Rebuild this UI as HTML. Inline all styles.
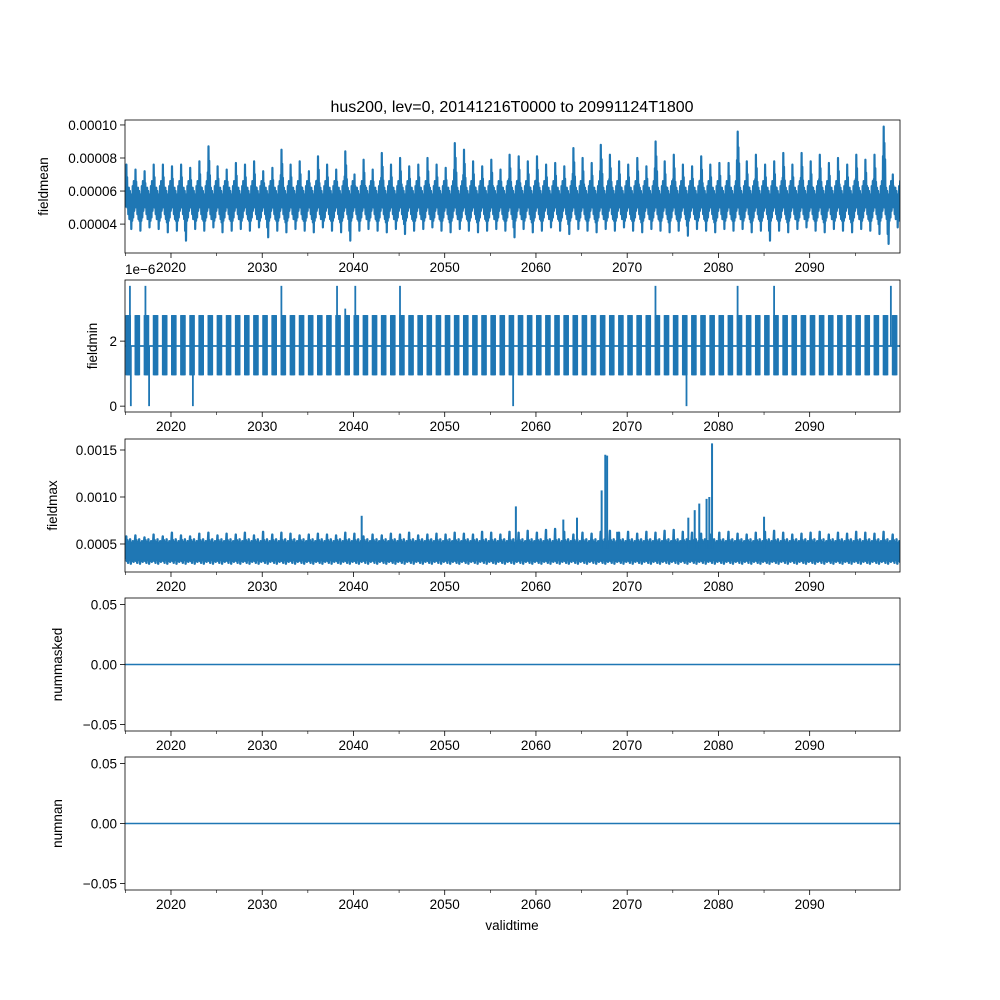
<!DOCTYPE html>
<html><head><meta charset="utf-8"><style>
body{margin:0;background:#fff}
svg{display:block;font-family:"Liberation Sans","DejaVu Sans",sans-serif}
</style></head><body>
<svg id="c" width="1000" height="1000"></svg>
<script>
const years=[];for(let y=2015;y<=2099;y++)years.push(y);
const meanHi=[7.6,7.3,7.2,7.6,7.6,7.5,7.6,7.4,7.8,8.7,7.5,7.3,7.7,7.6,7.8,7.2,7.4,8.5,7.6,7.8,7.2,8.1,7.6,7.3,8.4,7.0,7.9,7.3,8.3,7.6,8.0,7.5,7.6,8.0,7.6,7.4,8.9,8.5,7.8,7.5,7.9,7.3,8.2,8.1,7.8,8.1,7.6,7.7,7.5,8.6,8.0,7.7,8.8,8.2,7.8,7.6,8.0,7.5,9.0,7.8,8.2,7.6,7.5,8.1,7.6,7.7,7.7,9.6,7.8,8.2,7.6,7.8,8.3,7.6,8.3,7.8,8.2,7.7,8.0,7.6,8.2,7.9,8.2,9.9,7.0];
const meanLo=[3.7,3.6,3.8,3.7,3.5,3.6,3.0,3.7,3.6,3.8,3.5,3.6,3.7,3.6,3.8,3.2,3.6,3.5,3.7,3.6,3.5,3.8,3.6,3.5,3.0,3.6,3.7,3.6,3.5,3.7,3.4,3.6,3.7,3.8,3.6,3.5,3.7,3.6,3.5,3.6,3.7,3.6,3.2,3.7,3.5,3.6,3.8,3.6,3.4,3.7,3.6,3.5,3.7,3.6,3.8,3.6,3.5,3.7,3.6,3.5,3.6,3.3,3.7,3.6,3.5,3.7,3.6,3.7,3.5,3.6,3.0,3.6,3.5,3.7,3.8,3.6,3.5,3.7,3.6,3.5,3.7,3.6,3.4,2.8,3.8];
const maxHi=[5.8,5.9,5.7,6.0,5.8,6.2,5.9,5.8,6.1,6.2,5.9,6.1,6.0,6.2,5.9,6.3,6.0,6.2,6.1,5.9,6.0,6.1,6.0,5.9,6.2,6.1,5.8,6.0,5.9,6.1,6.0,6.2,5.9,6.0,6.1,6.0,6.2,6.1,6.0,6.3,6.2,6.0,6.3,6.2,6.4,6.2,6.5,6.6,6.3,6.0,6.2,6.1,6.3,6.4,6.2,6.3,6.1,6.3,6.2,6.4,6.5,6.3,6.2,6.1,6.0,6.2,6.3,6.1,6.0,6.2,6.3,6.4,6.2,6.0,6.1,6.2,6.3,6.0,6.2,6.1,6.3,6.2,6.1,6.3,6.0];
const maxSpikeT=[2040.9,2057.8,2063.0,2064.5,2067.2,2067.6,2067.8,2068.9,2076.7,2077.4,2077.9,2078.7,2079.0,2079.3,2085.0];
const maxSpikeV=[8.0,9.0,7.6,7.8,10.7,14.5,14.4,6.3,7.8,8.6,9.3,9.8,10.0,15.7,7.9];
const minUpT=[2015.5,2017.2,2032.1,2038.2,2039.1,2040.2,2045.1,2073.1,2082.1,2086.1,2098.9];
const minUpV=[3.7,3.7,3.7,3.7,3.0,3.7,3.7,3.7,3.7,3.7,3.7];
const minDnT=[2015.6,2017.6,2022.4,2057.5,2076.5];
const minDnV=[0,0,0,0,0];
const flatT=[2014.96,2099.9];
const flatV=[0,0];
const xTicks=[2020,2030,2040,2050,2060,2070,2080,2090];
const xMinor=[2015,2025,2035,2045,2055,2065,2075,2085,2095];

const svg=document.getElementById('c');const NS='http://www.w3.org/2000/svg';
function el(t,a,p){const e=document.createElementNS(NS,t);for(const k in a)e.setAttribute(k,a[k]);(p||svg).appendChild(e);return e;}
const L=125,R=900,T0=2014.96,T1=2099.9;
const X=t=>L+(t-T0)/(T1-T0)*(R-L);
const C='#1f77b4';
function panel(name,top,bot,vmin,vmax,yt,ylab,labx){
  const g=el('g',{});
  
  
  const Y=v=>bot-(v-vmin)/(vmax-vmin)*(bot-top);
  const clip=el('clipPath',{id:'cl'+name});el('rect',{x:L,y:top,width:R-L,height:bot-top},clip);
  const d=el('g',{'clip-path':'url(#cl'+name+')'},g);
  
  
  for(const [v,s] of yt){const y=Y(v);el('line',{x1:L-5,x2:L,y1:y,y2:y,stroke:'#000','stroke-width':0.8},g);
    const tx=el('text',{x:L-8,y:y+5,'font-size':13.5,'text-anchor':'end'},g);tx.textContent=s;}
  for(const t of xTicks){const x=X(t);el('line',{x1:x,x2:x,y1:bot,y2:bot+5,stroke:'#000','stroke-width':0.8},g);
    const tx=el('text',{x:x,y:bot+19,'font-size':13.5,'text-anchor':'middle'},g);tx.textContent=t;}
  for(const t of xMinor){const x=X(t);el('line',{x1:x,x2:x,y1:bot,y2:bot+3,stroke:'#000','stroke-width':0.6},g);}
  const yl=el('text',{x:labx,y:(top+bot)/2,'font-size':13.5,'text-anchor':'middle',transform:`rotate(-90 ${labx} ${(top+bot)/2})`},g);yl.textContent=ylab;
  
  
  return {g,d,Y,top,bot};
}
// Panel 1 fieldmean
let p=panel('fieldmean',120,253,2.25,10.3,[[4,'0.00004'],[6,'0.00006'],[8,'0.00008'],[10,'0.00010']],'fieldmean',48);
let pts=[];
years.forEach((y,i)=>{const h=meanHi[i],l=meanLo[i];
 const seq=[[0,5.0],[0.04,h*0.82],[0.08,5.6],[0.11,h],[0.15,5.4],[0.19,h*0.9],[0.23,5.0],[0.27,h*0.8],[0.32,4.6],[0.38,6.2],[0.44,4.3],[0.5,6.0],[0.55,l+0.6],[0.6,5.8],[0.65,l],[0.7,5.6],[0.75,4.2],[0.8,6.3],[0.86,4.4],[0.92,6.6],[0.97,4.8]];
 seq.forEach(([f,v])=>pts.push(X(y+f).toFixed(1)+','+p.Y(v).toFixed(1)));});
el('polyline',{points:pts.join(' '),fill:'none',stroke:C,'stroke-width':2.2,'stroke-linejoin':'round'},p.d);
// Panel 2 fieldmin
p=panel('fieldmin',280,412,-0.18,3.88,[[0,'0'],[2,'2']],'fieldmin',97);
const off=el('text',{x:125,y:274,'font-size':13.5},p.g);off.textContent='1e\u22126';
el('line',{x1:L,x2:R,y1:p.Y(1.85),y2:p.Y(1.85),stroke:C,'stroke-width':1.8},p.d);
years.forEach((y,i)=>{for(let k=0;k<8;k++){const x=X(y+0.1+k*0.06);
 el('line',{x1:x,x2:x,y1:p.Y(2.8),y2:p.Y(0.95),stroke:C,'stroke-width':1.8},p.d);}});
minUpT.forEach((t,i)=>el('line',{x1:X(t),x2:X(t),y1:p.Y(1.85),y2:p.Y(minUpV[i]),stroke:C,'stroke-width':1.8},p.d));
minDnT.forEach((t,i)=>el('line',{x1:X(t),x2:X(t),y1:p.Y(1.85),y2:p.Y(minDnV[i]),stroke:C,'stroke-width':1.8},p.d));
// Panel 3 fieldmax
p=panel('fieldmax',439,572,2.02,16.17,[[5,'0.0005'],[10,'0.0010'],[15,'0.0015']],'fieldmax',57);
pts=[];
years.forEach((y,i)=>{const h=maxHi[i];
 const seq=[[0,4.0],[0.05,5.3],[0.1,h],[0.15,3.2],[0.22,5.4],[0.3,3.0],[0.38,5.2],[0.45,3.3],[0.52,5.5],[0.6,2.9],[0.68,5.1],[0.75,3.2],[0.82,5.3],[0.9,3.1],[0.96,5.0]];
 seq.forEach(([f,v])=>pts.push(X(y+f).toFixed(1)+','+p.Y(v).toFixed(1)));});
el('polyline',{points:pts.join(' '),fill:'none',stroke:C,'stroke-width':2.4,'stroke-linejoin':'round'},p.d);
el('rect',{x:L,y:p.Y(5.0),width:R-L,height:p.Y(3.4)-p.Y(5.0),fill:C},p.d);
maxSpikeT.forEach((t,i)=>el('line',{x1:X(t),x2:X(t),y1:p.Y(4.5),y2:p.Y(maxSpikeV[i]),stroke:C,'stroke-width':2},p.d));
// Panels 4,5
[['nummasked',598,731,62],['numnan',757,890,62]].forEach(([n,t,b,lx])=>{
 const q=panel(n,t,b,-0.0555,0.0555,[[-0.05,'\u22120.05'],[0,'0.00'],[0.05,'0.05']],n,lx);
 el('polyline',{points:flatT.map((tt,i)=>X(tt)+','+q.Y(flatV[i])).join(' '),fill:'none',stroke:C,'stroke-width':1.5},q.d);
});
// frames
[[120,253],[280,412],[439,572],[598,731],[757,890]].forEach(([t,b])=>el('rect',{x:L,y:t,width:R-L,height:b-t,fill:'none',stroke:'#000','stroke-width':0.8}));
const ti=el('text',{x:512,y:112,'font-size':16,'text-anchor':'middle'});ti.textContent='hus200, lev=0, 20141216T0000 to 20991124T1800';


const xl=el('text',{x:512,y:930,'font-size':13.5,'text-anchor':'middle'});xl.textContent='validtime';


</script>
</body></html>
